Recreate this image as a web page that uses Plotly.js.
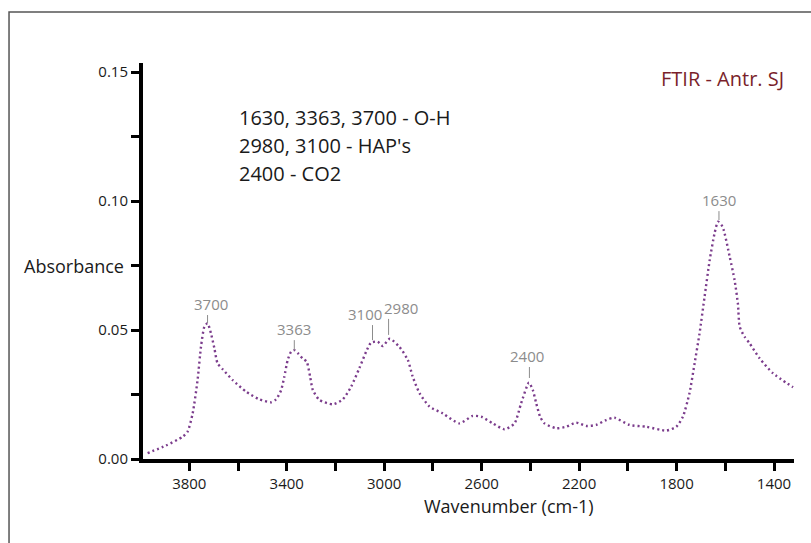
<!DOCTYPE html>
<html>
<head>
<meta charset="utf-8">
<script src="https://cdn.plot.ly/plotly-3.0.1.min.js"></script>
<style>html,body{margin:0;padding:0;background:#fff;}#chart{width:811px;height:543px;}</style>
</head>
<body>
<div id="chart"></div>
<script>
// Spectrum (wavenumber in cm-1, absorbance)
const wavenumber = [3971,3896,3828,3807,3786,3766,3752,3738,3725,3711,3697,3684,3663,3622,3567,3512,3465,3444,3423,3410,3396,3382,3369,3351,3335,3318,3304,3293,3266,3211,3170,3136,3102,3074,3054,3027,3006,2977,2938,2903,2883,2855,2814,2760,2691,2637,2602,2554,2506,2465,2438,2406,2390,2376,2360,2342,2294,2253,2212,2171,2130,2089,2055,1993,1924,1842,1801,1774,1747,1726,1706,1685,1664,1644,1630,1611,1582,1562,1548,1541,1521,1500,1459,1404,1322];
const absorbance = [0.0023,0.0052,0.0086,0.0106,0.0177,0.0306,0.0435,0.0513,0.0526,0.0487,0.0429,0.0371,0.0348,0.0306,0.0261,0.0231,0.0220,0.0231,0.0267,0.0319,0.0384,0.0416,0.0422,0.0407,0.0390,0.0377,0.0319,0.0267,0.0229,0.0212,0.0231,0.0280,0.0352,0.0416,0.0451,0.0455,0.0438,0.0466,0.0435,0.0384,0.0319,0.0255,0.0203,0.0177,0.0138,0.0167,0.0164,0.0138,0.0115,0.0138,0.0216,0.0296,0.0267,0.0216,0.0164,0.0138,0.0119,0.0125,0.0141,0.0128,0.0132,0.0151,0.0160,0.0132,0.0125,0.0110,0.0125,0.0164,0.0255,0.0371,0.0485,0.0629,0.0771,0.0875,0.0920,0.0900,0.0784,0.0694,0.0600,0.0513,0.0474,0.0448,0.0390,0.0332,0.0278];

// Peak labels
const peakLabels = ['3700','3363','3100','2980','2400','1630'];
const peakX = [3725,3369,3048,2982,2404,1626];
const peakY = [0.0527,0.0422,0.0461,0.0481,0.0314,0.0926];

// Axis ticks
const xTickVals = [3800,3600,3400,3200,3000,2800,2600,2400,2200,2000,1800,1600,1400];
const xTickText = ['3800','','3400','','3000','','2600','','2200','','1800','','1400'];
const yTickVals = [0,0.025,0.05,0.075,0.1,0.125,0.15];
const yTickText = ['0.00','','0.05','','0.10','','0.15'];

// Text
const notes = ['1630, 3363, 3700 - O-H', "2980, 3100 - HAP's", '2400 - CO2'];
const chartLabel = 'FTIR - Antr. SJ';
const xTitle = 'Wavenumber (cm-1)';
const yTitle = 'Absorbance';

// Style-only settings
const peakTickLen = [8,10,15,16,11,9];
const peakLabelShift = [3,0,-8,12,-2,0];
const notesY = [0.8636,0.7929,0.7222];

const FONT = 'Open Sans, Noto Sans, sans-serif';

const shapes = [{
  type:'rect', xref:'paper', yref:'paper', x0:-0.2058, x1:1.3, y0:-0.4, y1:1.1288,
  line:{color:'#555', width:1.5}, fillcolor:'rgba(0,0,0,0)', layer:'below'
}];
const annotations = [];
peakLabels.forEach((t,i)=>{
  shapes.push({type:'line', xref:'x', yref:'y', ysizemode:'pixel', yanchor:peakY[i],
    x0:peakX[i], x1:peakX[i], y0:0, y1:peakTickLen[i], line:{color:'#8c8c8c', width:1}});
  annotations.push({x:peakX[i], y:peakY[i], xref:'x', yref:'y', text:t, showarrow:false,
    xanchor:'center', yanchor:'bottom', yshift:peakTickLen[i]-1, xshift:peakLabelShift[i],
    font:{family:FONT, size:15, color:'#8c8c8c'}});
});
notes.forEach((t,i)=>{
  annotations.push({xref:'paper', yref:'paper', x:0.144, y:notesY[i], xanchor:'left', yanchor:'middle',
    align:'left', showarrow:false, text:t, font:{family:FONT, size:20, color:'#1a1a1a'}});
});
annotations.push({xref:'paper', yref:'paper', x:0.988, y:0.9596, xanchor:'right', yanchor:'middle',
  showarrow:false, text:chartLabel, font:{family:FONT, size:20, color:'#7a1f2b'}});
annotations.push({xref:'paper', yref:'paper', x:0.562, y:-0.1187, xanchor:'center', yanchor:'middle',
  showarrow:false, text:xTitle, font:{family:FONT, size:18, color:'#1a1a1a'}});
annotations.push({xref:'paper', yref:'y', x:-0.0262, y:0.075, xanchor:'right', yanchor:'middle',
  showarrow:false, text:yTitle, font:{family:FONT, size:18, color:'#1a1a1a'}});

const trace = {
  x: wavenumber, y: absorbance, type:'scatter', mode:'lines',
  line:{color:'#7b3c8c', width:2.4, dash:'2px,3px', shape:'spline', smoothing:0.6},
  hoverinfo:'skip'
};

const layout = {
  width:811, height:543,
  margin:{l:143, r:17, t:63, b:84},
  paper_bgcolor:'#fff', plot_bgcolor:'#fff',
  showlegend:false,
  xaxis:{range:[3990,1318], showgrid:false, zeroline:false, showline:true, linecolor:'#000', linewidth:4,
    ticks:'outside', ticklen:8, tickwidth:3, tickcolor:'#000', tickvals:xTickVals, ticktext:xTickText,
    tickfont:{family:FONT, size:15, color:'#1a1a1a'}},
  yaxis:{range:[0,0.1535], showgrid:false, zeroline:false, showline:true, linecolor:'#000', linewidth:4,
    ticks:'outside', ticklen:8, tickwidth:3, tickcolor:'#000', tickvals:yTickVals, ticktext:yTickText,
    tickfont:{family:FONT, size:15, color:'#1a1a1a'}},
  shapes: shapes,
  annotations: annotations
};

Plotly.newPlot('chart', [trace], layout, {staticPlot:true, displayModeBar:false});
</script>
</body>
</html>
